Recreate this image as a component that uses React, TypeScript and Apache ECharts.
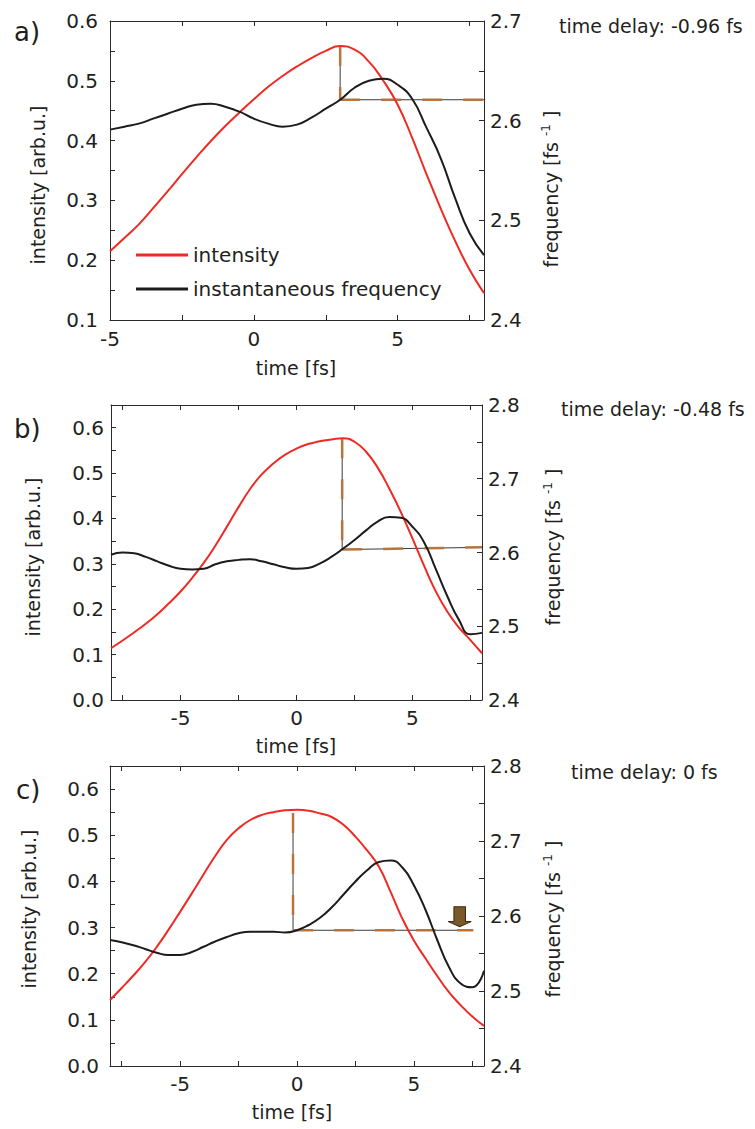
import React, { useEffect, useRef } from "react";
import * as echarts from "echarts";

// ---------- data ----------
const timeA = [-5, -4.5, -4, -3.5, -3, -2.5, -2, -1.5, -1, -0.5, 0, 0.5, 1, 1.5, 2, 2.5, 3, 3.5, 4, 4.5, 5, 5.5, 6, 6.5, 7, 7.5, 8];
const intensityA = [0.215, 0.237, 0.26, 0.287, 0.315, 0.344, 0.372, 0.399, 0.424, 0.447, 0.469, 0.49, 0.508, 0.524, 0.538, 0.55, 0.558, 0.552, 0.532, 0.5, 0.46, 0.405, 0.344, 0.286, 0.232, 0.184, 0.145];
const frequencyA = [2.591, 2.594, 2.597, 2.602, 2.607, 2.612, 2.616, 2.617, 2.614, 2.609, 2.602, 2.597, 2.594, 2.596, 2.603, 2.612, 2.621, 2.633, 2.64, 2.642, 2.636, 2.622, 2.593, 2.562, 2.522, 2.487, 2.465];

const timeBC = [-8, -7.5, -7, -6.5, -6, -5.5, -5, -4.5, -4, -3.5, -3, -2.5, -2, -1.5, -1, -0.5, 0, 0.5, 1, 1.5, 2, 2.5, 3, 3.5, 4, 4.5, 5, 5.5, 6, 6.5, 7, 7.5, 8];
const intensityB = [0.114, 0.131, 0.149, 0.168, 0.189, 0.213, 0.239, 0.269, 0.302, 0.34, 0.382, 0.425, 0.465, 0.497, 0.521, 0.54, 0.554, 0.564, 0.57, 0.574, 0.577, 0.569, 0.547, 0.512, 0.466, 0.414, 0.356, 0.296, 0.24, 0.195, 0.16, 0.132, 0.103];
const frequencyB = [2.597, 2.6, 2.599, 2.594, 2.588, 2.582, 2.578, 2.577, 2.578, 2.584, 2.588, 2.59, 2.591, 2.588, 2.584, 2.58, 2.578, 2.579, 2.585, 2.594, 2.605, 2.617, 2.63, 2.642, 2.648, 2.647, 2.635, 2.614, 2.578, 2.541, 2.509, 2.489, 2.491];
const intensityC = [0.143, 0.169, 0.196, 0.225, 0.258, 0.295, 0.334, 0.374, 0.415, 0.455, 0.49, 0.515, 0.533, 0.544, 0.55, 0.554, 0.555, 0.553, 0.547, 0.539, 0.522, 0.497, 0.467, 0.432, 0.378, 0.32, 0.272, 0.233, 0.195, 0.16, 0.132, 0.107, 0.087];
const frequencyC = [2.568, 2.565, 2.561, 2.556, 2.551, 2.548, 2.548, 2.552, 2.559, 2.566, 2.572, 2.577, 2.579, 2.579, 2.579, 2.578, 2.581, 2.588, 2.598, 2.612, 2.629, 2.646, 2.661, 2.672, 2.674, 2.665, 2.641, 2.608, 2.568, 2.532, 2.51, 2.505, 2.527];

// guide lines: vertical on intensity axis, horizontal on frequency axis
const guideVertA = [[3.0, 0.558], [3.0, 0.468]];
const guideHorizA = [[3.0, 2.621], [8, 2.621]];
const guideVertB = [[1.97, 0.577], [1.97, 0.332]];
const guideHorizB = [[1.97, 2.604], [8, 2.607]];
const guideVertC = [[-0.17, 0.548], [-0.17, 0.295]];
const guideHorizC = [[-0.17, 2.581], [7.54, 2.581]];
const arrowC = [6.96, 2.599];

// ticks and labels
const xTicksA = [-5, -2.5, 0, 2.5, 5, 7.5];
const xTicksBC = [-7.5, -5, -2.5, 0, 2.5, 5, 7.5];
const xLabels = [-5, 0, 5];
const intTicksA = [0.1, 0.15, 0.2, 0.25, 0.3, 0.35, 0.4, 0.45, 0.5, 0.55, 0.6];
const intLabelsA = [0.1, 0.2, 0.3, 0.4, 0.5, 0.6];
const intTicksBC = [0, 0.05, 0.1, 0.15, 0.2, 0.25, 0.3, 0.35, 0.4, 0.45, 0.5, 0.55, 0.6];
const intLabelsBC = [0, 0.1, 0.2, 0.3, 0.4, 0.5, 0.6];
const freqTicksA = [2.4, 2.45, 2.5, 2.55, 2.6, 2.65, 2.7];
const freqLabelsA = [2.4, 2.5, 2.6, 2.7];
const freqTicksBC = [2.4, 2.45, 2.5, 2.55, 2.6, 2.65, 2.7, 2.75, 2.8];
const freqLabelsBC = [2.4, 2.5, 2.6, 2.7, 2.8];

const panelLetters = ["a)", "b)", "c)"];
const delayTexts = ["time delay: -0.96 fs", "time delay: -0.48 fs", "time delay: 0 fs"];
const seriesNames = ["intensity", "instantaneous frequency"];

// ---------- styles / layout ----------
const FONT = "'DejaVu Sans', sans-serif";
const TEXT = "#231f20";
const AXIS = "#2a2a2a";
const RED = "#ee2a24";
const BLACK = "#1c1c1c";
const BROWN = "#b8743f";

const panels = [
  {
    grid: { left: 110, top: 21, width: 374, height: 299 },
    x: [-5, 8], xTicks: xTicksA, int: [0.1, 0.6], intTicks: intTicksA, intLabels: intLabelsA,
    freq: [2.4, 2.7], freqTicks: freqTicksA, freqLabels: freqLabelsA,
    time: timeA, intensity: intensityA, frequency: frequencyA,
    vert: guideVertA, horiz: guideHorizA,
    lMargin: 12, xMargin: 9,
    letter: [14, 32], delay: [559, 26], xTitle: [296, 368], lTitle: [38, 185], rTitle: [551, 189],
  },
  {
    grid: { left: 111, top: 405, width: 371, height: 295 },
    x: [-8, 8], xTicks: xTicksBC, int: [0, 0.65], intTicks: intTicksBC, intLabels: intLabelsBC,
    freq: [2.4, 2.8], freqTicks: freqTicksBC, freqLabels: freqLabelsBC,
    time: timeBC, intensity: intensityB, frequency: frequencyB,
    vert: guideVertB, horiz: guideHorizB,
    lMargin: 7, xMargin: 8,
    letter: [14, 429], delay: [561, 409], xTitle: [296, 746], lTitle: [33, 557], rTitle: [553, 547],
  },
  {
    grid: { left: 110, top: 766, width: 374, height: 300 },
    x: [-8, 8], xTicks: xTicksBC, int: [0, 0.65], intTicks: intTicksBC, intLabels: intLabelsBC,
    freq: [2.4, 2.8], freqTicks: freqTicksBC, freqLabels: freqLabelsBC,
    time: timeBC, intensity: intensityC, frequency: frequencyC,
    vert: guideVertC, horiz: guideHorizC,
    lMargin: 11, xMargin: 8,
    letter: [16, 790], delay: [571, 772], xTitle: [292, 1112], lTitle: [29, 909], rTitle: [553, 919],
  },
];

const zip = (xs: number[], ys: number[]) => xs.map((x, i) => [x, ys[i]]);

function buildOption() {
  const grid: any[] = [];
  const xAxis: any[] = [];
  const yAxis: any[] = [];
  const series: any[] = [];
  const graphic: any[] = [];

  const tickLabel = (margin: number, customValues: number[], fmt: (v: number) => string) => ({
    show: true,
    customValues,
    margin,
    fontSize: 20,
    fontFamily: FONT,
    color: TEXT,
    formatter: fmt,
  });
  const axisBase = (gridIndex: number, min: number, max: number, ticks: number[]) => ({
    type: "value",
    gridIndex,
    min,
    max,
    splitLine: { show: false },
    axisLine: { show: true, onZero: false, lineStyle: { color: AXIS, width: 1 } },
    axisTick: { show: true, inside: true, length: 5, customValues: ticks, lineStyle: { color: AXIS, width: 1 } },
  });

  panels.forEach((p, i) => {
    grid.push({ ...p.grid, containLabel: false });
    xAxis.push({
      ...axisBase(i, p.x[0], p.x[1], p.xTicks),
      position: "bottom",
      axisLabel: tickLabel(p.xMargin, xLabels, (v: number) => String(v)),
    });
    xAxis.push({ ...axisBase(i, p.x[0], p.x[1], p.xTicks), position: "top", axisLabel: { show: false } });
    yAxis.push({
      ...axisBase(i, p.int[0], p.int[1], p.intTicks),
      position: "left",
      axisLabel: tickLabel(p.lMargin, p.intLabels, (v: number) => v.toFixed(1)),
    });
    yAxis.push({
      ...axisBase(i, p.freq[0], p.freq[1], p.freqTicks),
      position: "right",
      axisLabel: tickLabel(6, p.freqLabels, (v: number) => v.toFixed(1)),
    });

    const xi = 2 * i;
    const yl = 2 * i;
    const yr = 2 * i + 1;
    const guide = (data: number[][], yIdx: number, dashed: boolean) => ({
      type: "line",
      xAxisIndex: xi,
      yAxisIndex: yIdx,
      data,
      symbol: "none",
      silent: true,
      z: dashed ? 2 : 1,
      lineStyle: dashed
        ? { color: BROWN, width: 2.5, type: [20, 21] }
        : { color: "#3a3a3a", width: 1 },
    });
    series.push(guide(p.vert, yl, false));
    series.push(guide(p.horiz, yr, false));
    series.push(guide(p.vert, yl, true));
    series.push(guide(p.horiz, yr, true));
    series.push({
      name: seriesNames[0],
      type: "line",
      xAxisIndex: xi,
      yAxisIndex: yl,
      data: zip(p.time, p.intensity),
      smooth: 0.5,
      symbol: "none",
      z: 3,
      color: RED,
      lineStyle: { color: RED, width: 2 },
    });
    const freqSeries: any = {
      name: seriesNames[1],
      type: "line",
      xAxisIndex: xi,
      yAxisIndex: yr,
      data: zip(p.time, p.frequency),
      smooth: 0.5,
      symbol: "none",
      z: 3,
      color: BLACK,
      lineStyle: { color: BLACK, width: 2 },
    };
    if (i === 2) {
      freqSeries.markPoint = {
        silent: true,
        symbol: "path://M25 0 L75 0 L75 74 L100 74 L50 100 L0 74 L25 74 Z",
        symbolSize: [23, 20],
        symbolKeepAspect: false,
        label: { show: false },
        itemStyle: { color: "#7b5a2a", borderColor: "#3d2b12", borderWidth: 1 },
        data: [{ coord: arrowC }],
      };
    }
    series.push(freqSeries);

    // texts
    graphic.push({
      type: "text", x: p.letter[0], y: p.letter[1],
      style: { text: panelLetters[i], fontSize: 26, fontFamily: FONT, fill: TEXT, align: "left", verticalAlign: "middle" },
    });
    graphic.push({
      type: "text", x: p.delay[0], y: p.delay[1],
      style: { text: delayTexts[i], fontSize: 19, fontFamily: FONT, fill: TEXT, align: "left", verticalAlign: "middle" },
    });
    graphic.push({
      type: "text", x: p.xTitle[0], y: p.xTitle[1],
      style: { text: "time [fs]", fontSize: 19, fontFamily: FONT, fill: TEXT, align: "center", verticalAlign: "middle" },
    });
    graphic.push({
      type: "text", x: p.lTitle[0], y: p.lTitle[1], rotation: Math.PI / 2,
      style: { text: "intensity [arb.u.]", fontSize: 19, fontFamily: FONT, fill: TEXT, align: "center", verticalAlign: "middle" },
    });
    graphic.push({
      type: "text", x: p.rTitle[0], y: p.rTitle[1], rotation: Math.PI / 2,
      style: {
        text: "frequency [fs {sup|-1} ]",
        fontSize: 19, fontFamily: FONT, fill: TEXT, align: "center", verticalAlign: "middle",
        rich: { sup: { fontSize: 12, fontFamily: FONT, fill: TEXT, verticalAlign: "top", lineHeight: 22 } },
      },
    });
  });

  return {
    animation: false,
    backgroundColor: "#ffffff",
    textStyle: { fontFamily: FONT },
    grid,
    xAxis,
    yAxis,
    series,
    graphic,
    legend: {
      data: seriesNames,
      orient: "vertical",
      left: 136,
      top: 243,
      padding: 0,
      itemWidth: 52,
      itemHeight: 3,
      itemGap: 10,
      icon: "rect",
      selectedMode: false,
      textStyle: { fontSize: 20, fontFamily: FONT, color: TEXT, lineHeight: 24 },
    },
  };
}

export default function App() {
  const ref = useRef<HTMLDivElement>(null);
  useEffect(() => {
    document.body.style.margin = "0";
    if (!ref.current) return;
    const chart = echarts.init(ref.current, undefined, { renderer: "svg" });
    chart.setOption(buildOption() as any);
    return () => chart.dispose();
  }, []);
  return <div ref={ref} style={{ width: 755, height: 1129 }} />;
}
